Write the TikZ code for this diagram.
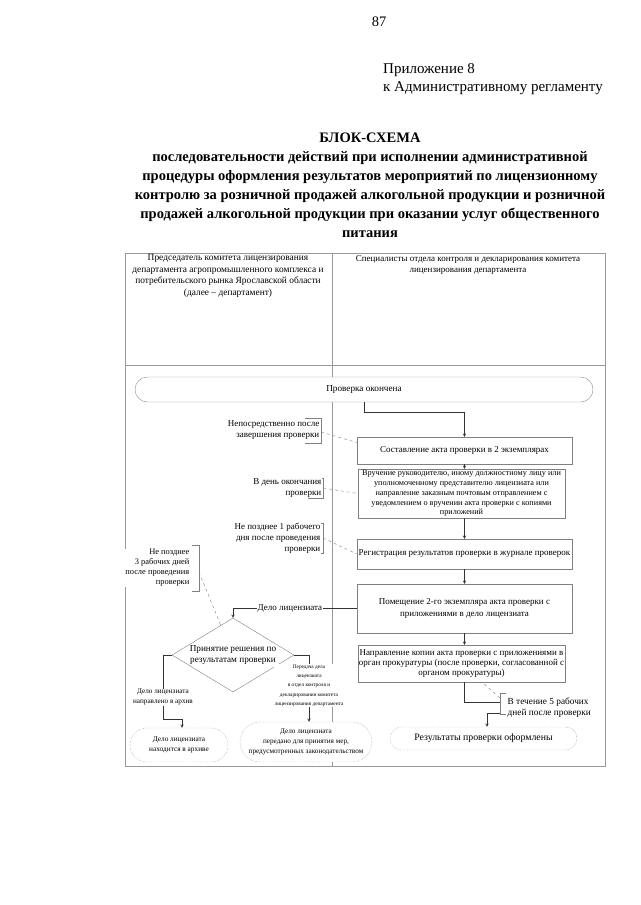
\documentclass[tikz,border=0pt]{standalone}
\usepackage{fontspec}
\setmainfont{Liberation Serif}
\usetikzlibrary{shapes.geometric}
\usetikzlibrary{calc}
\usepgflibrary{arrows}

\begin{document}
\begin{tikzpicture}[%
x=1pt, y=-1pt,
>=stealth,
tablica/.style={draw=black!40, line width=.6pt},
blok/.style={rectangle, draw=black!50, fill=white, align=center, inner sep=.5pt, font=\fontsize{9}{12.5}\selectfont},
terminal/.style={rectangle, draw=black!45, fill=white, align=center, inner sep=1pt, font=\fontsize{9.2}{11}\selectfont},
punktir/.style={densely dotted},
romb/.style={diamond, draw=black!50, fill=white, align=center, inner sep=0pt, aspect=1.65, font=\fontsize{9.2}{11.5}\selectfont},
svyaz/.style={->, draw=black!80, line width=.5pt},
skobka/.style={draw=black!50, line width=.5pt},
vynoska/.style={dashed, draw=black!50, line width=.4pt},
primech/.style={inner sep=.5pt, fill=white, font=\fontsize{9}{11}\selectfont},
melko/.style={inner sep=.5pt, fill=white, align=center, font=\fontsize{5.3}{9.3}\selectfont},
]

\useasboundingbox (0,0) rectangle (640,905);

\pgfmathsetmacro{\levo}{125}
\pgfmathsetmacro{\pravo}{605}
\pgfmathsetmacro{\razdel}{332}
\pgfmathsetmacro{\verh}{253}
\pgfmathsetmacro{\shapka}{365}
\pgfmathsetmacro{\niz}{766}

% zagolovok
\node[font=\fontsize{14.5}{18}\selectfont] (stranica) at (379,22) {87};
\node[anchor=west, align=left, inner sep=0, font=\fontsize{15}{18}\selectfont] (prilozhenie) at (383,79)
{Приложение 8\\к Административному регламенту};
\node[align=center, inner sep=0, font=\bfseries\fontsize{14.5}{19}\selectfont] (nazvanie) at (370,185)
{БЛОК-СХЕМА\\последовательности действий при исполнении административной\\процедуры оформления результатов мероприятий по лицензионному\\контролю за розничной продажей алкогольной продукции и розничной\\продажей алкогольной продукции при оказании услуг общественного\\питания};

% tablica
\draw[tablica] (\levo,\verh) rectangle (\pravo,\niz);
\draw[tablica] (\levo,\shapka) -- (\pravo,\shapka);
\draw[tablica] (\razdel,\verh) -- (\razdel,\niz);

\node[align=center, inner sep=0, font=\fontsize{9.4}{11.4}\selectfont] (predsedatel) at (228,276)
{Председатель комитета лицензирования\\департамента агропромышленного комплекса и\\потребительского рынка Ярославской области\\(далее -- департамент)};
\node[align=center, inner sep=0, font=\fontsize{9}{11.5}\selectfont] (specialisty) at (468,265)
{Специалисты отдела контроля и декларирования комитета\\лицензирования департамента};

% bloki
\node[terminal, rounded corners=12.5pt, minimum width=458pt, minimum height=25pt] (konec) at (364,389.5) {Проверка окончена};
\node[blok, minimum width=215pt, minimum height=27pt] (akt) at (464.5,450.5) {Составление акта проверки в 2 экземплярах};
\node[blok, inner sep=0pt, minimum width=207pt, minimum height=49pt, font=\fontsize{8.2}{9.7}\selectfont] (vruchenie) at (461.5,493.5)
{Вручение руководителю, иному должностному лицу или\\уполномоченному представителю лицензиата или\\направление заказным почтовым отправлением с\\уведомлением о вручении акта проверки с копиями\\приложений};
\node[blok, inner sep=0pt, minimum width=215pt, minimum height=30pt] (registr) at (464.5,554) {Регистрация результатов проверки в журнале проверок};
\node[blok, minimum width=215pt, minimum height=49pt] (pomeshenie) at (464.5,608.5)
{Помещение 2-го экземпляра акта проверки с\\приложениями в дело лицензиата};
\node[blok, minimum width=207pt, minimum height=37pt, font=\fontsize{9}{10.4}\selectfont] (napravlenie) at (461.5,663.5)
{Направление копии акта проверки с приложениями  в\\орган прокуратуры (после проверки, согласованной с\\органом прокуратуры)};
\node[terminal, punktir, rounded corners=11.5pt, minimum width=187pt, minimum height=23pt, font=\fontsize{9.8}{11}\selectfont] (oformleny) at (483.5,738.5) {Результаты проверки оформлены};

\node[romb, minimum width=122pt, minimum height=74pt] (reshenie) at (233,655) {Принятие решения по\\результатам проверки};
\node[terminal, punktir, rounded corners=17pt, minimum width=98pt, minimum height=34pt, font=\fontsize{7.3}{9.5}\selectfont] (arhiv) at (179,745)
{Дело лицензиата\\находится в архиве};
\node[terminal, punktir, rounded corners=20pt, minimum width=132pt, minimum height=40pt, font=\fontsize{7.2}{9.8}\selectfont] (peredano) at (306,742)
{Дело лицензиата\\передано для принятия мер,\\предусмотренных законодательством};

% svyazi
\draw[svyaz] (konec.south) -- ++(0,10) -| (akt.north);
\draw[svyaz] (akt.south) -- (akt.south |- vruchenie.north);
\draw[svyaz] (registr.north |- vruchenie.south) -- (registr.north);
\draw[svyaz] (registr.south) -- (pomeshenie.north);
\draw[svyaz] (pomeshenie.south) -- (pomeshenie.south |- napravlenie.north);
\draw[svyaz] (pomeshenie.south |- napravlenie.south) |- (500,702) -- (500,713) -| ([xshift=3.5pt]oformleny.north);

\draw[svyaz] (pomeshenie.west) -| (reshenie.north) node[primech, pos=.27] {Дело лицензиата};
\draw[svyaz] (reshenie.west) -| (163,719) node[melko, font=\fontsize{7.2}{10}\selectfont, pos=.83] {Дело лицензиата\\направлено в архив}
  -| ([xshift=3pt]arhiv.north);
\draw[svyaz] (reshenie.east) -| ([xshift=3pt]peredano.north) node[melko, pos=.73]
{Передача дела\\лицензиата\\в отдел контроля и\\декларирования комитета\\лицензирования департамента};

% primechaniya
\coordinate (skobka1) at (321,432);
\draw[skobka] (305,418) -- (321,418) -- (321,443) -- (305,443);
\node[primech, anchor=east, align=right] (srok1) at (320,430.5) {Непосредственно после\\завершения проверки};
\draw[vynoska] (skobka1) -- ([yshift=8pt]akt.west);

\coordinate (skobka2) at (323,488);
\draw[skobka] (308,478) -- (323,478) -- (323,498) -- (308,498);
\node[primech, anchor=east, align=right] (srok2) at (322,488) {В день окончания\\проверки};
\draw[vynoska] (skobka2) -- (vruchenie.west);

\coordinate (skobka3) at (323,538);
\draw[skobka] (308,523) -- (323,523) -- (323,553) -- (308,553);
\node[primech, anchor=east, align=right] (srok3) at (321,538) {Не позднее 1 рабочего\\дня после проведения\\проверки};
\draw[vynoska] (skobka3) -- (registr.west);

\coordinate (skobka4) at (199,572);
\draw[skobka] (192,545) -- (199,545) -- (199,591) -- (192,591);
\node[primech, anchor=east, align=right, font=\fontsize{8.4}{10}\selectfont] (srok4) at (190,568) {Не позднее\\3 рабочих дней\\после проведения\\проверки};
\draw[vynoska] (skobka4) -- ($(reshenie.north)!.2!(reshenie.west)$);

\coordinate (skobka5) at (500,698);
\draw[skobka] (506,693) -- (500,693) -- (500,714) -- (506,714);
\node[primech, anchor=west, align=left, font=\fontsize{9.3}{11}\selectfont] (srok5) at (507,707.5) {В течение 5 рабочих\\дней после проверки};
\draw[vynoska] (skobka5) -- ($(napravlenie.south east)!.4!(napravlenie.south west)$);

\end{tikzpicture}
\end{document}
